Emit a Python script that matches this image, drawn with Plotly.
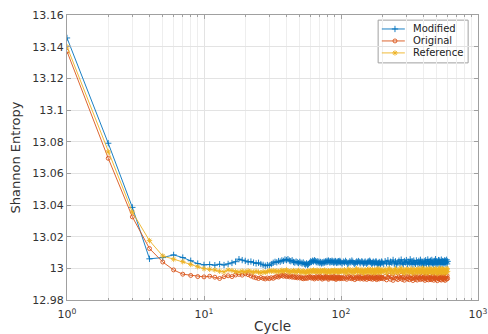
import plotly.graph_objects as go

CYCLES = list(range(1, 101)) + list(range(102, 201, 2)) + list(range(205, 601, 5))

MODIFIED = [
    13.1455, 13.0790, 13.0385, 13.0060, 13.0068, 13.0085, 13.0068, 13.0048, 13.0030, 13.0022,
    13.0024, 13.0020, 13.0026, 13.0021, 13.0028, 13.0034, 13.0042, 13.0058, 13.0052, 13.0047,
    13.0040, 13.0043, 13.0036, 13.0031, 13.0035, 13.0027, 13.0022, 13.0016, 13.0021, 13.0018,
    13.0027, 13.0035, 13.0041, 13.0038, 13.0046, 13.0042, 13.0050, 13.0047, 13.0056, 13.0052,
    13.0058, 13.0049, 13.0045, 13.0051, 13.0040, 13.0036, 13.0043, 13.0038, 13.0033, 13.0041,
    13.0035, 13.0030, 13.0037, 13.0028, 13.0024, 13.0031, 13.0022, 13.0027, 13.0035, 13.0044,
    13.0040, 13.0048, 13.0043, 13.0051, 13.0046, 13.0039, 13.0045, 13.0037, 13.0042, 13.0034,
    13.0040, 13.0031, 13.0038, 13.0033, 13.0041, 13.0036, 13.0044, 13.0039, 13.0047, 13.0041,
    13.0049, 13.0043, 13.0037, 13.0045, 13.0040, 13.0048, 13.0042, 13.0036, 13.0044, 13.0038,
    13.0046, 13.0040, 13.0034, 13.0042, 13.0037, 13.0045, 13.0039, 13.0047, 13.0041, 13.0036,
    # 102..200 step 2
    13.0031, 13.0042, 13.0036, 13.0047, 13.0039, 13.0028, 13.0035, 13.0044, 13.0038, 13.0049,
    13.0041, 13.0033, 13.0027, 13.0036, 13.0043, 13.0037, 13.0046, 13.0040, 13.0032, 13.0039,
    13.0045, 13.0038, 13.0030, 13.0036, 13.0043, 13.0035, 13.0029, 13.0037, 13.0044, 13.0039,
    13.0048, 13.0041, 13.0034, 13.0028, 13.0035, 13.0042, 13.0036, 13.0031, 13.0038, 13.0045,
    13.0037, 13.0030, 13.0024, 13.0033, 13.0040, 13.0034, 13.0027, 13.0035, 13.0043, 13.0036,
    # 205..600 step 5
    13.0028, 13.0045, 13.0032, 13.0051, 13.0026, 13.0042, 13.0035, 13.0053, 13.0029, 13.0044,
    13.0022, 13.0039, 13.0048, 13.0030, 13.0055, 13.0034, 13.0025, 13.0046, 13.0037, 13.0052,
    13.0027, 13.0041, 13.0033, 13.0057, 13.0031, 13.0045, 13.0024, 13.0049, 13.0036, 13.0028,
    13.0050, 13.0038, 13.0026, 13.0047, 13.0032, 13.0054, 13.0029, 13.0043, 13.0035, 13.0021,
    13.0046, 13.0033, 13.0051, 13.0027, 13.0040, 13.0056, 13.0030, 13.0044, 13.0025, 13.0048,
    13.0036, 13.0053, 13.0031, 13.0042, 13.0023, 13.0047, 13.0034, 13.0058, 13.0029, 13.0045,
    13.0038, 13.0026, 13.0052, 13.0033, 13.0049, 13.0027, 13.0041, 13.0055, 13.0032, 13.0046,
    13.0024, 13.0043, 13.0035, 13.0050, 13.0030, 13.0047, 13.0037, 13.0054, 13.0028, 13.0044,
]

ORIGINAL = [
    13.1370, 13.0695, 13.0325, 13.0125, 13.0040, 12.9990, 12.9963, 12.9955, 12.9948, 12.9946,
    12.9950, 12.9944, 12.9936, 12.9947, 12.9953, 12.9948, 12.9958, 12.9962, 12.9957, 12.9966,
    12.9960, 12.9952, 12.9945, 12.9940, 12.9936, 12.9942, 12.9937, 12.9933, 12.9939, 12.9935,
    12.9941, 12.9937, 12.9944, 12.9949, 12.9945, 12.9952, 12.9956, 12.9950, 12.9955, 12.9948,
    12.9953, 12.9946, 12.9951, 12.9944, 12.9949, 12.9942, 12.9947, 12.9940, 12.9946, 12.9939,
    12.9945, 12.9938, 12.9934, 12.9941, 12.9936, 12.9943, 12.9937, 12.9944, 12.9949, 12.9943,
    12.9938, 12.9945, 12.9940, 12.9933, 12.9941, 12.9948, 12.9942, 12.9936, 12.9944, 12.9951,
    12.9945, 12.9939, 12.9932, 12.9940, 12.9946, 12.9937, 12.9943, 12.9950, 12.9944, 12.9938,
    12.9931, 12.9939, 12.9945, 12.9940, 12.9947, 12.9941, 12.9935, 12.9943, 12.9949, 12.9942,
    12.9936, 12.9930, 12.9938, 12.9945, 12.9939, 12.9946, 12.9940, 12.9934, 12.9942, 12.9937,
    # 102..200 step 2
    12.9941, 12.9935, 12.9946, 12.9939, 12.9931, 12.9944, 12.9950, 12.9937, 12.9943, 12.9934,
    12.9947, 12.9940, 12.9929, 12.9938, 12.9945, 12.9936, 12.9948, 12.9942, 12.9933, 12.9940,
    12.9951, 12.9939, 12.9932, 12.9944, 12.9937, 12.9946, 12.9930, 12.9941, 12.9949, 12.9936,
    12.9943, 12.9934, 12.9947, 12.9940, 12.9931, 12.9945, 12.9938, 12.9950, 12.9935, 12.9942,
    12.9929, 12.9944, 12.9937, 12.9948, 12.9933, 12.9941, 12.9946, 12.9936, 12.9943, 12.9939,
    # 205..600 step 5
    12.9934, 12.9948, 12.9927, 12.9943, 12.9955, 12.9931, 12.9945, 12.9924, 12.9940, 12.9952,
    12.9936, 12.9929, 12.9947, 12.9938, 12.9956, 12.9930, 12.9944, 12.9925, 12.9941, 12.9950,
    12.9933, 12.9946, 12.9928, 12.9939, 12.9954, 12.9935, 12.9923, 12.9942, 12.9949, 12.9931,
    12.9945, 12.9926, 12.9940, 12.9953, 12.9937, 12.9929, 12.9948, 12.9934, 12.9957, 12.9932,
    12.9943, 12.9924, 12.9938, 12.9951, 12.9930, 12.9946, 12.9927, 12.9941, 12.9955, 12.9936,
    12.9928, 12.9947, 12.9933, 12.9950, 12.9925, 12.9942, 12.9937, 12.9953, 12.9931, 12.9945,
    12.9922, 12.9939, 12.9948, 12.9934, 12.9956, 12.9929, 12.9944, 12.9926, 12.9940, 12.9952,
    12.9935, 12.9947, 12.9930, 12.9943, 12.9924, 12.9938, 12.9949, 12.9932, 12.9954, 12.9936,
]

REFERENCE = [
    13.1400, 13.0735, 13.0355, 13.0175, 13.0078, 13.0058, 13.0042, 13.0025, 13.0010, 12.9998,
    12.9994, 12.9990, 12.9982, 12.9978, 12.9990, 12.9986, 12.9980, 12.9976, 12.9982, 12.9978,
    12.9984, 12.9979, 12.9975, 12.9981, 12.9976, 12.9972, 12.9978, 12.9974, 12.9980, 12.9985,
    12.9981, 12.9986, 12.9979, 12.9984, 12.9977, 12.9983, 12.9988, 12.9980, 12.9985, 12.9990,
    12.9982, 12.9976, 12.9983, 12.9979, 12.9986, 12.9981, 12.9975, 12.9982, 12.9987, 12.9980,
    12.9974, 12.9979, 12.9984, 12.9977, 12.9972, 12.9978, 12.9983, 12.9976, 12.9981, 12.9986,
    12.9979, 12.9984, 12.9989, 12.9982, 12.9977, 12.9983, 12.9988, 12.9981, 12.9976, 12.9982,
    12.9987, 12.9980, 12.9985, 12.9978, 12.9984, 12.9989, 12.9981, 12.9976, 12.9983, 12.9978,
    12.9985, 12.9979, 12.9974, 12.9981, 12.9986, 12.9980, 12.9985, 12.9978, 12.9983, 12.9988,
    12.9982, 12.9977, 12.9984, 12.9979, 12.9986, 12.9981, 12.9975, 12.9982, 12.9987, 12.9981,
    # 102..200 step 2
    12.9985, 12.9976, 12.9991, 12.9980, 12.9970, 12.9987, 12.9995, 12.9978, 12.9984, 12.9973,
    12.9990, 12.9982, 12.9971, 12.9986, 12.9997, 12.9979, 12.9988, 12.9975, 12.9983, 12.9993,
    12.9977, 12.9986, 12.9969, 12.9981, 12.9992, 12.9984, 12.9974, 12.9989, 12.9980, 12.9996,
    12.9978, 12.9987, 12.9972, 12.9983, 12.9994, 12.9981, 12.9970, 12.9988, 12.9979, 12.9991,
    12.9975, 12.9985, 12.9998, 12.9980, 12.9973, 12.9989, 12.9982, 12.9993, 12.9976, 12.9986,
    # 205..600 step 5
    12.9980, 12.9994, 12.9971, 12.9988, 12.9999, 12.9976, 12.9990, 12.9968, 12.9985, 12.9997,
    12.9979, 12.9972, 12.9992, 12.9983, 13.0001, 12.9975, 12.9989, 12.9969, 12.9986, 12.9996,
    12.9978, 12.9991, 12.9973, 12.9984, 12.9999, 12.9980, 12.9967, 12.9987, 12.9995, 12.9977,
    12.9990, 12.9971, 12.9985, 12.9998, 12.9982, 12.9974, 12.9993, 12.9979, 13.0002, 12.9976,
    12.9988, 12.9969, 12.9983, 12.9996, 12.9975, 12.9991, 12.9972, 12.9986, 13.0000, 12.9981,
    12.9973, 12.9992, 12.9978, 12.9995, 12.9970, 12.9987, 12.9982, 12.9998, 12.9976, 12.9990,
    12.9966, 12.9984, 12.9993, 12.9979, 13.0001, 12.9974, 12.9989, 12.9971, 12.9985, 12.9997,
    12.9980, 12.9992, 12.9975, 12.9988, 12.9968, 12.9983, 12.9994, 12.9977, 12.9999, 12.9981,
]

SERIES_NAMES = ["Modified", "Original", "Reference"]
Y_TICKS = [12.98, 13.0, 13.02, 13.04, 13.06, 13.08, 13.1, 13.12, 13.14, 13.16]
Y_TICK_TEXT = ["12.98", "13", "13.02", "13.04", "13.06", "13.08", "13.1", "13.12", "13.14", "13.16"]
X_TICKS = [1, 10, 100, 1000]
X_TICK_TEXT = ["10<sup>0</sup>", "10<sup>1</sup>", "10<sup>2</sup>", "10<sup>3</sup>"]
X_MINOR = [m * d for d in (1, 10, 100) for m in range(2, 10)]

FONT = "DejaVu Sans, Verdana, sans-serif"
FRAME = "#a0a0a0"
styles = [
    dict(color="#0072BD", symbol="cross-thin-open", size=4.5),
    dict(color="#D95319", symbol="circle-open", size=4),
    dict(color="#EDB120", symbol="asterisk-open", size=4.5),
]

fig = go.Figure()
for name, ys, st in zip(SERIES_NAMES, [MODIFIED, ORIGINAL, REFERENCE], styles):
    fig.add_trace(go.Scatter(
        x=CYCLES, y=ys, name=name, mode="lines+markers", showlegend=False,
        line=dict(color=st["color"], width=0.9),
        marker=dict(symbol=st["symbol"], size=st["size"], color=st["color"],
                    line=dict(color=st["color"], width=0.9)),
    ))

# --- custom compact legend (overlay axes spanning the plot area, 0..1) ---
LEG_BOX = (0.757, 0.976, 0.832, 0.982)     # x0, x1, y0, y1 in plot-area fraction
LEG_ROWS = [0.951, 0.909, 0.867]
LEG_LINE = (0.766, 0.798, 0.822)           # line start, marker, line end
LEG_TEXT_X = 0.836

fig.add_shape(type="rect", xref="x2", yref="y2", layer="below",
              x0=LEG_BOX[0], x1=LEG_BOX[1], y0=LEG_BOX[2], y1=LEG_BOX[3],
              fillcolor="white", line=dict(color=FRAME, width=1))
for name, st, ry in zip(SERIES_NAMES, styles, LEG_ROWS):
    fig.add_trace(go.Scatter(
        x=[LEG_LINE[0], LEG_LINE[2]], y=[ry, ry], xaxis="x2", yaxis="y2",
        mode="lines", line=dict(color=st["color"], width=0.9),
        showlegend=False, hoverinfo="skip"))
    fig.add_trace(go.Scatter(
        x=[LEG_LINE[1]], y=[ry], xaxis="x2", yaxis="y2", mode="markers",
        marker=dict(symbol=st["symbol"], size=st["size"], color=st["color"],
                    line=dict(color=st["color"], width=0.9)),
        showlegend=False, hoverinfo="skip"))
    fig.add_annotation(x=LEG_TEXT_X, y=ry, xref="x2", yref="y2", text=name,
                       showarrow=False, xanchor="left", yanchor="middle",
                       font=dict(family=FONT, size=10, color="#222222"))

axis_common = dict(
    showline=True, linecolor=FRAME, linewidth=1, mirror="ticks",
    ticks="inside", ticklen=4, tickcolor=FRAME,
    showgrid=True, gridcolor="#e3e3e3", gridwidth=1, zeroline=False,
    tickfont=dict(family=FONT, size=11, color="#333333"),
    automargin=False,
)

fig.update_xaxes(
    type="log", range=[0, 3], tickmode="array", tickvals=X_TICKS, ticktext=X_TICK_TEXT,
    ticklabelstandoff=4,
    title=dict(text="Cycle", font=dict(family=FONT, size=13.5, color="#333333"), standoff=1),
    minor=dict(tickmode="array", tickvals=X_MINOR, showgrid=True, gridcolor="#eeeeee",
               ticks="inside", ticklen=2, tickcolor=FRAME),
    **axis_common,
)
fig.update_yaxes(
    range=[12.98, 13.16], tickmode="array", tickvals=Y_TICKS, ticktext=Y_TICK_TEXT,
    title=dict(text="Shannon Entropy", font=dict(family=FONT, size=13, color="#333333"), standoff=8),
    **axis_common,
)

fig.update_layout(
    width=488, height=334,
    margin=dict(l=67, r=10, t=15, b=34),
    paper_bgcolor="white", plot_bgcolor="white",
    showlegend=False,
    xaxis2=dict(overlaying="x", range=[0, 1], visible=False, fixedrange=True),
    yaxis2=dict(overlaying="y", range=[0, 1], visible=False, fixedrange=True),
)

fig.write_html("out.html")
